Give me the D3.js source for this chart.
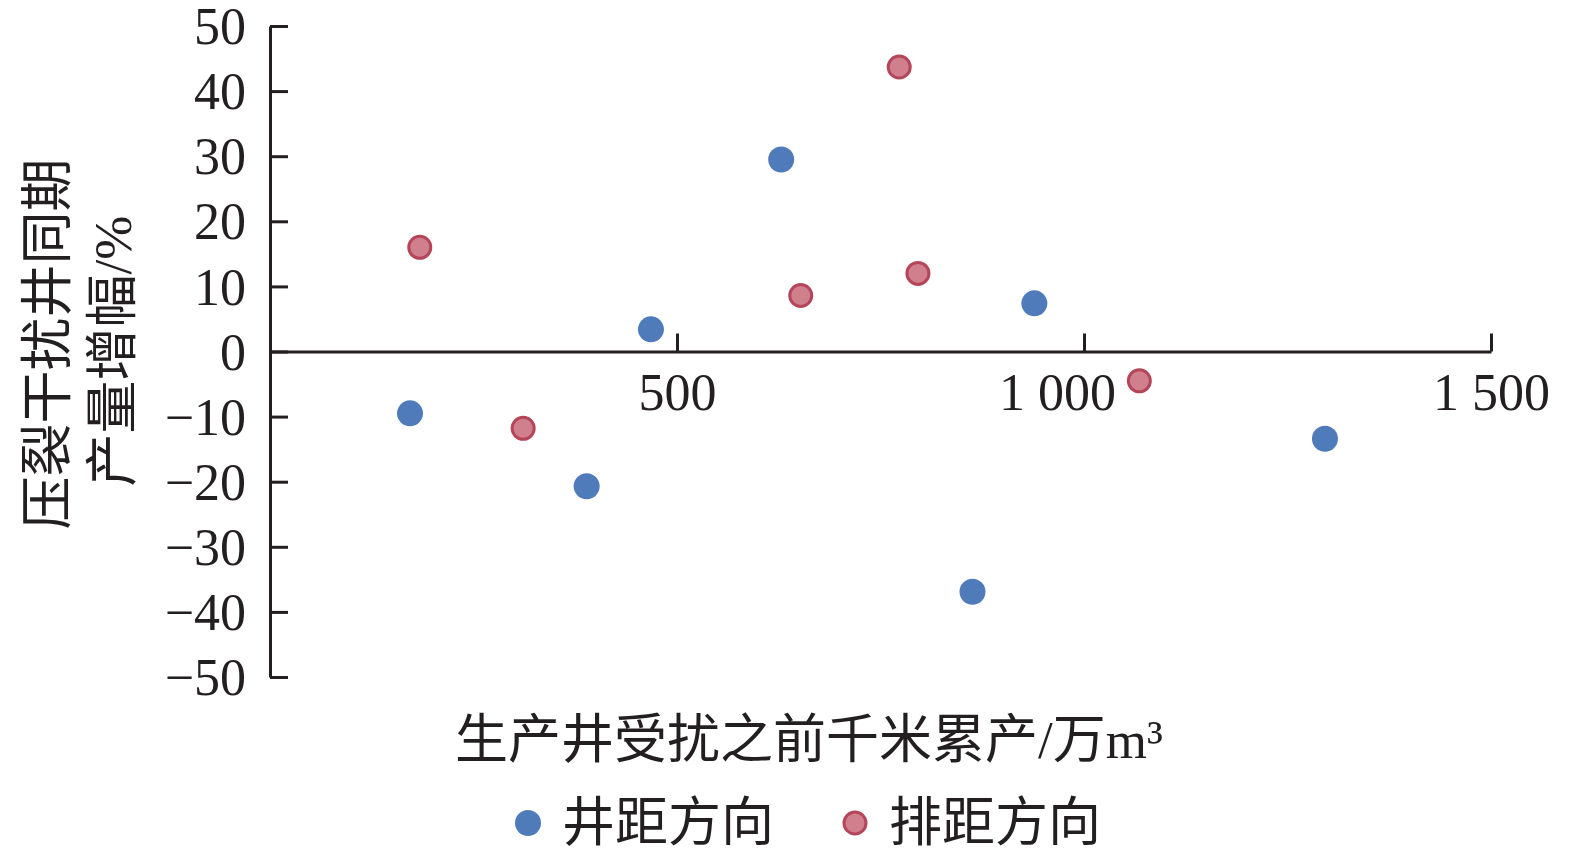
<!DOCTYPE html>
<html>
<head>
<meta charset="utf-8">
<script src="https://cdn.jsdelivr.net/npm/d3@7/dist/d3.min.js"></script>
<style>
  body { margin: 0; background: #fff; }
  svg { display: block; }
  .serif { font-family: "Liberation Serif", "Noto Sans CJK SC", serif; fill: #231f20; }
</style>
</head>
<body>
<svg width="1575" height="852"></svg>
<script>
// 井距方向 (blue) and 排距方向 (red) points
const wellX = [172, 389, 468, 628, 863, 939, 1296];
const wellY = [-9.5, -20.7, 3.4, 29.5, -36.9, 7.4, -13.4];
const rowX = [184, 311, 652, 773, 796, 1068];
const rowY = [16.0, -11.8, 8.6, 43.7, 12.0, -4.5];

const xTicks = [500, 1000, 1500];
const yTicks = [-50, -40, -30, -20, -10, 0, 10, 20, 30, 40, 50];
const seriesNames = ["井距方向", "排距方向"];
const xTitle = "生产井受扰之前千米累产/万m³";
const yTitle = ["压裂干扰井同期", "产量增幅/%"];

let svg = d3.select("svg");
let x = d3.scaleLinear().domain([0, 1500]).range([270, 1491]);
let y = d3.scaleLinear().domain([-50, 50]).range([677, 26]);

const ink = "#231f20";
const blue = "#4f7bba";
const redFill = "#d07f8d";
const redStroke = "#b5465a";

// y axis, ticks point inward
let yAxis = d3.axisLeft(y)
  .tickValues(yTicks)
  .tickSizeInner(-18)
  .tickSizeOuter(0)
  .tickPadding(24)
  .tickFormat(d => d < 0 ? "\u2212" + Math.abs(d) : d);

let gy = svg.append("g").attr("transform", "translate(" + x(0) + ",0)").call(yAxis);

// x axis through zero, ticks point up
let xAxis = d3.axisBottom(x)
  .tickValues(xTicks)
  .tickSizeInner(-18)
  .tickSizeOuter(0)
  .tickPadding(22)
  .tickFormat(d => d3.format(",")(d).replace(",", " "));

let gx = svg.append("g").attr("transform", "translate(0," + y(0) + ")").call(xAxis);

[gx, gy].forEach(g => {
  g.select(".domain").attr("stroke", ink).attr("stroke-width", 3);
  g.selectAll(".tick line").attr("stroke", ink).attr("stroke-width", 3);
  g.selectAll(".tick text")
    .attr("class", "serif")
    .style("font-size", "52px")
    .attr("fill", ink);
});
gy.selectAll(".tick text").attr("dy", "0.34em");
// the 1 000 label sits a bit left of its tick in the original
gx.selectAll(".tick text").filter(d => d === 1000).attr("dx", -27);

// points
svg.append("g").selectAll("circle")
  .data(wellX.map((v, i) => [v, wellY[i]]))
  .enter().append("circle")
  .attr("cx", d => x(d[0]))
  .attr("cy", d => y(d[1]))
  .attr("r", 13)
  .attr("fill", blue);

svg.append("g").selectAll("circle")
  .data(rowX.map((v, i) => [v, rowY[i]]))
  .enter().append("circle")
  .attr("cx", d => x(d[0]))
  .attr("cy", d => y(d[1]))
  .attr("r", 11)
  .attr("fill", redFill)
  .attr("stroke", redStroke)
  .attr("stroke-width", 3);

// axis titles
svg.append("text")
  .attr("class", "serif")
  .attr("x", 809).attr("y", 740)
  .attr("text-anchor", "middle")
  .attr("dominant-baseline", "central")
  .style("font-size", "53px")
  .text(xTitle);

svg.selectAll(".ytitle")
  .data(yTitle)
  .enter().append("text")
  .attr("class", "serif ytitle")
  .attr("text-anchor", "middle")
  .attr("dominant-baseline", "central")
  .attr("transform", (d, i) => "translate(" + [48, 113][i] + "," + [344, 351][i] + ") rotate(-90)")
  .style("font-size", "53px")
  .text(d => d);

// legend
let legend = svg.append("g");
let lx = [528, 855];
legend.append("circle").attr("cx", lx[0]).attr("cy", 823).attr("r", 13).attr("fill", blue);
legend.append("circle").attr("cx", lx[1]).attr("cy", 823).attr("r", 11)
  .attr("fill", redFill).attr("stroke", redStroke).attr("stroke-width", 3);
legend.selectAll("text")
  .data(seriesNames)
  .enter().append("text")
  .attr("class", "serif")
  .attr("x", (d, i) => lx[i] + 34)
  .attr("y", 823)
  .attr("dominant-baseline", "central")
  .style("font-size", "53px")
  .text(d => d);
</script>
</body>
</html>
